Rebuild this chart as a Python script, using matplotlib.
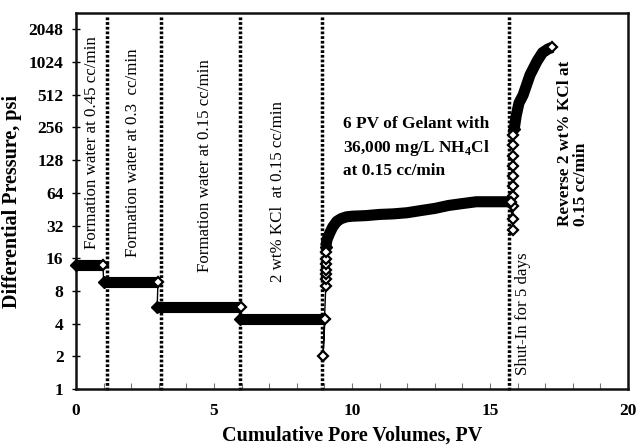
import matplotlib
matplotlib.use("Agg")
import matplotlib.pyplot as plt
from matplotlib.ticker import FixedLocator, FixedFormatter, MultipleLocator

plt.rcParams['font.family'] = ['Liberation Serif', 'DejaVu Serif']
plt.rcParams['mathtext.fontset'] = 'custom'
plt.rcParams['mathtext.rm'] = 'Liberation Serif:bold'
plt.rcParams['mathtext.bf'] = 'Liberation Serif:bold'

# ---------------- data ----------------
# flow stages: cumulative PV and differential pressure (psi)
stage1_pv = [0.00, 0.25, 0.50, 0.75, 0.98]
stage1_dp = [13.8, 13.8, 13.8, 13.8, 13.8]
stage2_pv = [1.00, 1.50, 2.00, 2.50, 2.97]
stage2_dp = [9.6, 9.6, 9.6, 9.6, 9.6]
stage3_pv = [2.94, 3.50, 4.00, 4.50, 5.00, 5.50, 5.97]
stage3_dp = [5.7, 5.7, 5.7, 5.7, 5.7, 5.7, 5.7]
stage4_pv = [5.94, 6.50, 7.00, 7.50, 8.00, 8.50, 9.02]
stage4_dp = [4.45, 4.45, 4.45, 4.45, 4.45, 4.45, 4.45]
gelant_pv = [9.05, 9.10, 9.20, 9.30, 9.45, 9.60, 9.80, 10.0, 10.5, 11.0, 11.5,
             12.0, 12.5, 13.0, 13.5, 14.0, 14.5, 15.0, 15.5, 15.75]
gelant_dp = [20.5, 24.0, 27.5, 31.0, 35.0, 37.0, 38.5, 39.0, 39.5, 40.5, 41.0,
             42.0, 44.0, 46.0, 49.0, 51.0, 53.0, 53.0, 53.0, 53.0]
reverse_pv = [15.88, 15.95, 16.05, 16.20, 16.45, 16.70, 16.90, 17.10, 17.25]
reverse_dp = [250, 330, 430, 510, 780, 1040, 1250, 1350, 1400]

# sparse points where single open diamonds are visible
drop_pv = [8.95]
drop_dp = [2.0]
ramp1_pv = [9.05, 9.05, 9.05, 9.05, 9.05, 9.05, 9.05]
ramp1_dp = [8.8, 10.2, 11.4, 12.6, 14.1, 15.7, 18.2]
ramp2_pv = [15.83, 15.83, 15.83, 15.83, 15.83, 15.83, 15.83, 15.83, 15.83, 15.83]
ramp2_dp = [29.0, 36.8, 48.5, 60.0, 74.0, 92.0, 114, 141, 175, 216]

# stage boundaries (PV)
boundaries = [1.12, 3.08, 5.94, 8.9, 15.7]

y_ticks = [1, 2, 4, 8, 16, 32, 64, 128, 256, 512, 1024, 2048]
y_tick_labels = [str(v) for v in y_ticks]
x_ticks = [0, 5, 10, 15, 20]

# ---------------- figure ----------------
fig = plt.figure(figsize=(6.38, 4.46), dpi=100)
ax = fig.add_axes([76/638, (446-389)/446, (628-76)/638, (389-13)/446])
ax.set_yscale('log', base=2)
ax.set_xlim(0, 20)
ax.set_ylim(1, 2900)

# stage boundaries as dotted lines
for b in boundaries:
    ax.plot([b, b], [0.97, 2700], color='black', lw=2.5,
            linestyle=(0, (0.8, 0.55)), dash_capstyle='butt', clip_on=False, zorder=2)

# thin connecting line through everything in order
all_pv = (stage1_pv + stage2_pv + stage3_pv + stage4_pv + drop_pv + ramp1_pv
          + gelant_pv + ramp2_pv + reverse_pv)
all_dp = (stage1_dp + stage2_dp + stage3_dp + stage4_dp + drop_dp + ramp1_dp
          + gelant_dp + ramp2_dp + reverse_dp)
ax.plot(all_pv, all_dp, color='black', lw=1.0, zorder=3)

# dense bands of overlapping markers drawn as thick lines
bands = [(stage1_pv, stage1_dp), (stage2_pv, stage2_dp), (stage3_pv, stage3_dp),
         (stage4_pv, stage4_dp), (gelant_pv, gelant_dp), (reverse_pv, reverse_dp)]
for pv, dp in bands:
    ax.plot(pv, dp, color='black', lw=8.0, solid_capstyle='butt',
            solid_joinstyle='round', zorder=4, clip_on=False)
    ax.plot(pv[:1], dp[:1], linestyle='none', marker='D', ms=5.8, mfc='black',
            mec='black', zorder=4, clip_on=False)
    ax.plot(pv[-1:], dp[-1:], linestyle='none', marker='D', ms=5.4, mfc='white',
            mec='black', mew=1.6, zorder=6, clip_on=False)

# isolated open diamonds
for pv, dp in [(drop_pv, drop_dp), (ramp1_pv, ramp1_dp), (ramp2_pv, ramp2_dp)]:
    ax.plot(pv, dp, linestyle='none', marker='D', ms=5.4, mfc='white',
            mec='black', mew=1.6, zorder=5)

# ---------------- axes styling ----------------
ax.yaxis.set_major_locator(FixedLocator(y_ticks))
ax.yaxis.set_major_formatter(FixedFormatter(y_tick_labels))
ax.yaxis.set_minor_locator(FixedLocator([]))
ax.xaxis.set_major_locator(FixedLocator(x_ticks))
ax.xaxis.set_minor_locator(MultipleLocator(1))
ax.tick_params(axis='y', which='major', direction='inout', length=6, width=1.0,
               labelsize=12.5, pad=6)
ax.tick_params(axis='x', which='both', direction='in', length=4, width=0.8,
               color='#777777', labelsize=12.5, pad=10)
for lab in ax.get_xticklabels() + ax.get_yticklabels():
    lab.set_fontweight('bold')
for s in ax.spines.values():
    s.set_linewidth(1.8)
    s.set_color('#111111')

ax.set_xlabel('Cumulative Pore Volumes, PV', fontsize=14.5, fontweight='bold')
ax.set_ylabel('Differential Pressure, psi', fontsize=14.5, fontweight='bold')
ax.xaxis.set_label_coords(0.5, -37/376)
ax.yaxis.set_label_coords(-54/552, 0.5)

# ---------------- annotations ----------------
ax.text(0.58, 19.4, 'Formation water at 0.45 cc/min', rotation=90, ha='center',
        va='bottom', fontsize=12.2)
ax.text(2.07, 16.3, 'Formation water at 0.3  cc/min', rotation=90, ha='center',
        va='bottom', fontsize=12.2)
ax.text(4.67, 11.9, 'Formation water at 0.15 cc/min', rotation=90, ha='center',
        va='bottom', fontsize=12.2)
ax.text(7.32, 9.6, '2 wt% KCl  at 0.15 cc/min', rotation=90, ha='center',
        va='bottom', fontsize=12.2)
ax.text(16.2, 1.35, 'Shut-In for 5 days', rotation=90, ha='center',
        va='bottom', fontsize=12.2)
ax.text(9.67, 330, '6 PV of Gelant with\n36,000 mg/L NH$_\\mathbf{4}$Cl\nat 0.15 cc/min',
        ha='left', va='top', fontsize=12.4, fontweight='bold', linespacing=1.45)
ax.text(18.0, 31.6, 'Reverse 2 wt% KCl at\n0.15 cc/min', rotation=90, ha='center',
        va='bottom', fontsize=12.4, fontweight='bold', multialignment='left',
        linespacing=1.0)

fig.savefig('out.png', dpi=100)
